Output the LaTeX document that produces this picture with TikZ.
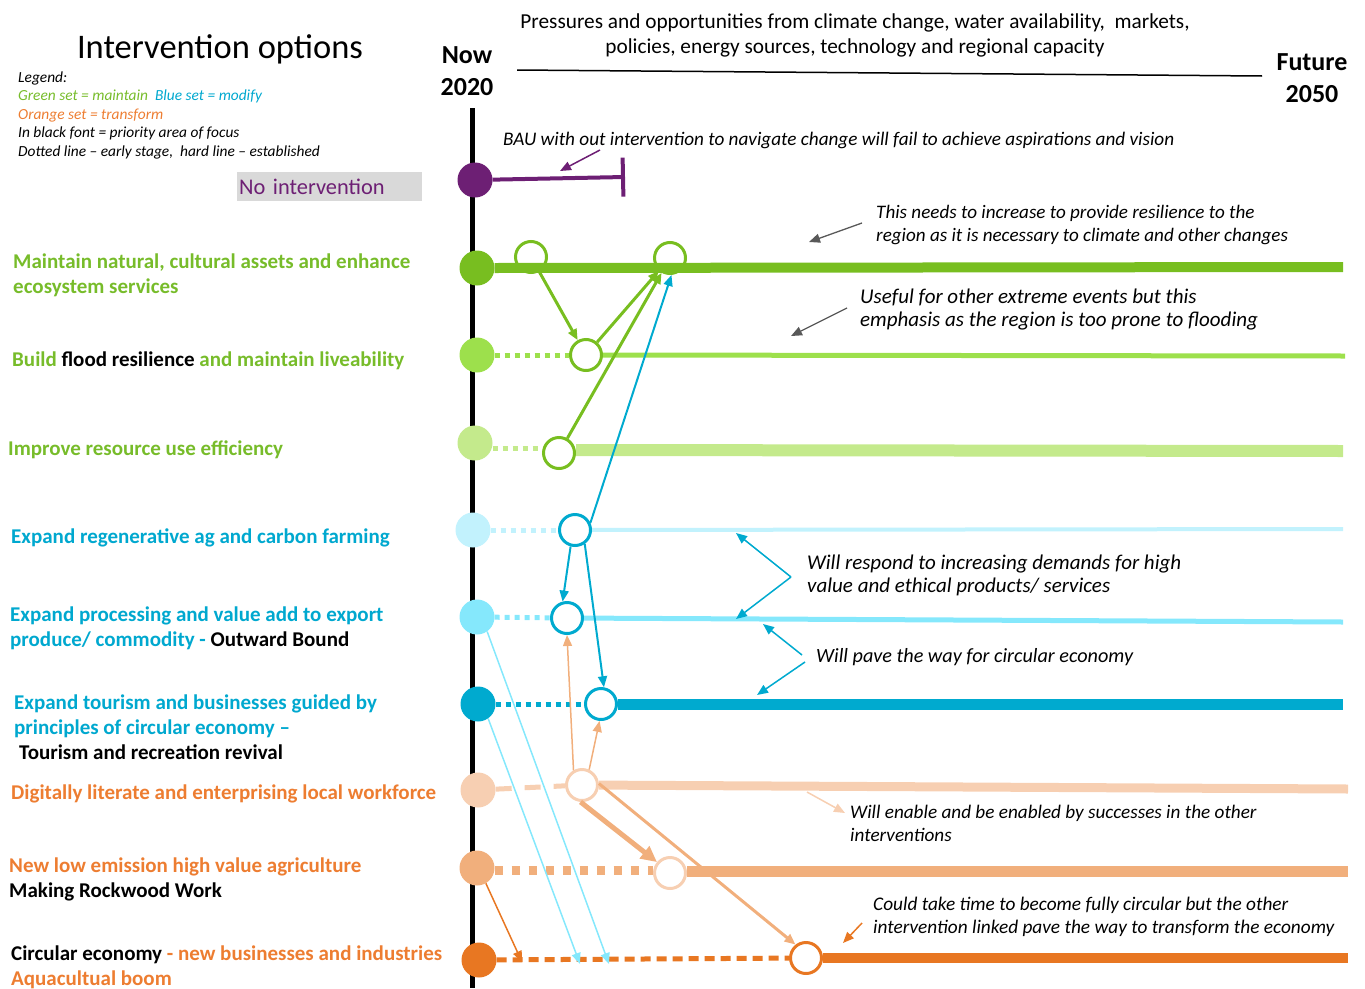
\documentclass[tikz,border=0pt]{standalone}
\usepackage{fontspec}
\setmainfont{Carlito}
\usepackage{xcolor}
\usetikzlibrary{arrows.meta,calc}

\definecolor{purp}{HTML}{6D1F74}
\definecolor{gDark}{HTML}{78BE20}
\definecolor{gMid}{HTML}{9DE04C}
\definecolor{gPale}{HTML}{C4EA8C}
\definecolor{bDark}{HTML}{00AACF}
\definecolor{bMid}{HTML}{85E8FC}
\definecolor{bPale}{HTML}{C2F2FD}
\definecolor{oDark}{HTML}{E87722}
\definecolor{oMid}{HTML}{F1AF7C}
\definecolor{oPale}{HTML}{F7CFB2}
\definecolor{txtGreen}{HTML}{77BC2A}
\definecolor{txtBlue}{HTML}{00A8CF}
\definecolor{txtOrange}{HTML}{ED7D31}
\definecolor{noteGray}{HTML}{595959}
\definecolor{boxGray}{HTML}{D9D9D9}

\begin{document}
\begin{tikzpicture}[x=1pt,y=-1pt,
  stage/.style={circle, fill=#1, minimum size=35pt, inner sep=0pt},
  ring/.style={circle, draw=#1, line width=3pt, fill=white, minimum size=31pt, inner sep=0pt},
  lbl/.style={anchor=west, align=left, inner sep=0pt, text=#1,
    font={\fontsize{21}{25}\selectfont\bfseries}},
  note/.style={anchor=west, align=left, inner sep=0pt,
    font={\fontsize{#1}{23.5}\selectfont\itshape}},
  tipS/.style={-{Triangle[length=11pt,width=9pt]}},
  tipL/.style={-{Triangle[length=16pt,width=15pt]}},
  early/.style={line width=5pt, dash pattern=on 5pt off 5pt}]

\useasboundingbox (0,0) rectangle (1365,988);

% heading
\node (title) at (220,49) {\fontsize{34.5}{40}\selectfont Intervention options};
\node[align=center, font={\fontsize{26}{32}\selectfont\bfseries}] (now) at (467,71) {Now\\2020};
\node[align=center, font={\fontsize{26}{32}\selectfont\bfseries}] (future) at (1312,78) {Future\\2050};
\node[align=center, font={\fontsize{21.3}{25}\selectfont}] (press) at (855,35)
  {Pressures and opportunities from climate change, water availability,\ \ markets,\\
   policies, energy sources, technology and regional capacity};
\coordinate (pL) at (517,70);
\coordinate (pR) at (1262,76);
\draw[line width=1.5pt] (pL) -- (pR);

% legend
\node[anchor=west, align=left, inner sep=0pt, font={\fontsize{15.4}{18.5}\selectfont\itshape}] (legend) at (18,115)
  {Legend:\\
   {\color{txtGreen}Green set = maintain}\ \ {\color{txtBlue}Blue set = modify}\\
   {\color{txtOrange}Orange set = transform}\\
   In black font = priority area of focus\\
   Dotted line -- early stage,\ \ hard line -- established};

% time line
\coordinate (tTop) at (472,108);
\coordinate (tBot) at (472,988);
\draw[line width=5pt] (tTop) -- (tBot);

% no intervention
\node[anchor=west, fill=boxGray, text width=181pt, minimum height=29pt, inner sep=2pt,
  text=purp, font={\fontsize{22.4}{24}\selectfont}] (none) at (237,186.5) {No intervention};
\node[stage=purp] (p0) at (475,180) {};
\coordinate (pEnd) at (625,177);
\draw[purp, line width=4pt, -{Bar[width=39pt]}] (p0) -- (pEnd);
\node[note=19.2, anchor=base west] (bau) at (503,145)
  {BAU with out intervention to navigate change will fail to achieve aspirations and vision};
\coordinate (bauA) at (600,150);
\coordinate (bauB) at (560,171);
\draw[purp, line width=1.5pt, tipS] (bauA) -- (bauB);

% labels
\node[lbl=txtGreen] (l1) at (13,275.5) {Maintain natural, cultural assets and enhance\\ecosystem services};
\node[lbl=txtGreen] (l2) at (12,361) {Build {\color{black}flood resilience} and maintain liveability};
\node[lbl=txtGreen] (l3) at (8,450) {Improve resource use efficiency};
\node[lbl=txtBlue] (l4) at (11,538) {Expand regenerative ag and carbon farming};
\node[lbl=txtBlue] (l5) at (10,628.5) {Expand processing and value add to export\\produce/ commodity - {\color{black}Outward Bound}};
\node[lbl=txtBlue] (l6) at (14,727) {Expand tourism and businesses guided by\\principles of circular economy --\\
  \hspace*{5pt}{\color{black}Tourism and recreation revival}};
\node[lbl=txtOrange] (l7) at (11,794) {Digitally literate and enterprising local workforce};
\node[lbl=txtOrange] (l8) at (9,879.5) {New low emission high value agriculture\\{\color{black}Making Rockwood Work}};
\node[lbl=txtOrange] (l9) at (11,967) {{\color{black}Circular economy} - new businesses and industries\\Aquacultual boom};

% green set
\node[stage=gDark] (g1) at (477,268) {};
\coordinate (g1End) at (1343,267);
\draw[gDark, line width=10pt] (g1.east) -- (g1End);
\node[ring=gDark, fill=none] (m1) at (531,257) {};
\node[ring=gDark, fill=none] (m2) at (670,258) {};

\node[stage=gMid] (g2) at (477,355) {};
\node[ring=gDark] (r2) at (586,355) {};
\coordinate (g2End) at (1345,356);
\draw[gMid, early] (g2) -- (r2);
\draw[gMid, line width=5pt] (r2) -- (g2End);

\node[stage=gPale] (g3) at (475,443) {};
\node[ring=gDark] (r3) at (559,453) {};
\coordinate (g3End) at (1343,451);
\draw[gPale, early] ($(g3.east)+(0,5)$) -- ($(r3.west)+(0,-5)$);
\draw[gPale, line width=12pt] ($(r3.east)+(0,-3)$) -- (g3End);

\draw[gDark, line width=3pt, tipS] (m1) -- (r2);
\draw[gDark, line width=3pt, tipS] (r2) -- (m2);
\draw[gDark, line width=3pt, tipS] (r3) -- (m2);

% blue set
\node[stage=bPale] (b1) at (473,530) {};
\node[ring=bDark] (e1) at (575,530) {};
\coordinate (b1End) at (1343,529);
\draw[bPale, early] (b1) -- (e1);
\draw[bPale, line width=4pt] (e1) -- (b1End);

\node[stage=bMid] (b2) at (477,617) {};
\node[ring=bDark] (e2) at (567,618) {};
\coordinate (b2End) at (1343,622);
\draw[bMid, early] (b2) -- (e2);
\draw[bMid, line width=5pt] (e2) -- (b2End);

\node[stage=bDark] (b3) at (478,704) {};
\node[ring=bDark] (e3) at (601,704) {};
\coordinate (b3End) at (1343,704);
\draw[bDark, early] (b3) -- (e3);
\draw[bDark, line width=11pt] (e3) -- (b3End);

\draw[bDark, line width=2pt, tipS] (e1.25) -- (m2.-85);
\draw[bDark, line width=2pt, tipS] (e1.-105) -- (e2.105);
\draw[bDark, line width=2pt, tipS] (e1.-55) -- (e3.80);

% orange set
\node[stage=oPale] (o1) at (478,790) {};
\node[ring=oPale] (w1) at (582,785) {};
\coordinate (o1End) at (1348,789);
\draw[oPale, line width=5pt, dash pattern=on 16pt off 13pt] (o1) -- (w1);
\draw[oPale, line width=9pt] (w1) -- (o1End);

\node[stage=oMid] (o2) at (477,868) {};
\node[ring=oPale] (w2) at (670,873) {};
\coordinate (o2End) at (1348,871);
\draw[oMid, line width=9pt, dash pattern=on 8pt off 9pt] ($(o2.east)+(0,2)$) -- ($(w2.west)+(0,-3)$);
\draw[oMid, line width=11pt] ($(w2.east)+(0,-2)$) -- (o2End);

\node[stage=oDark] (o3) at (479,960) {};
\node[ring=oDark] (w3) at (806,958) {};
\coordinate (o3End) at (1348,958);
\draw[oDark, line width=5pt, dash pattern=on 10pt off 6pt] (o3) -- (w3);
\draw[oDark, line width=10pt] (w3) -- (o3End);

\draw[oMid, line width=1.5pt, tipS] (w1.120) -- (e2.-90);
\draw[oMid, line width=1.5pt, tipS] (w1.65) -- (e3.-95);
\draw[oMid, line width=5pt, tipL] (w1.-95) -- (w2.140);
\draw[oMid, line width=3pt, tipS] (w1.5) -- (w3.128);
\coordinate (o3Hit) at (522,962);
\draw[oDark, line width=1.5pt, tipS] (o2.-60) -- (o3Hit);

\coordinate (b2Hit) at (609,964);
\coordinate (b3Hit) at (580,964);
\draw[bMid, line width=1.5pt, tipS] (b2.-55) -- (b2Hit);
\draw[bMid, line width=1.5pt, tipS] (b3.-55) -- (b3Hit);

% notes
\node[note=19.1] (n1) at (876,225) {This needs to increase to provide resilience to the\\region as it is necessary to climate and other changes};
\coordinate (n1a) at (862,223);
\coordinate (n1b) at (809,242);
\draw[noteGray, line width=1.3pt, tipS] (n1a) -- (n1b);

\node[note=21] (n2) at (860,309.5) {Useful for other extreme events but this\\emphasis as the region is too prone to flooding};
\coordinate (n2a) at (847,308);
\coordinate (n2b) at (791,336);
\draw[noteGray, line width=1.3pt, tipS] (n2a) -- (n2b);

\node[note=21] (n3) at (807,575.5) {Will respond to increasing demands for high\\value and ethical products/ services};
\coordinate (n3v) at (791,577);
\coordinate (n3a) at (736,533);
\coordinate (n3b) at (736,619);
\draw[bDark, line width=1.5pt, tipS] (n3v) -- (n3a);
\draw[bDark, line width=1.5pt, tipS] (n3v) -- (n3b);

\node[note=20.2] (n4) at (816,657.5) {Will pave the way for circular economy};
\coordinate (n4a) at (802,655);
\coordinate (n4b) at (763,624);
\coordinate (n4c) at (805,662);
\coordinate (n4d) at (757,695);
\draw[bDark, line width=1.5pt, tipS] (n4a) -- (n4b);
\draw[bDark, line width=1.5pt, tipS] (n4c) -- (n4d);

\node[note=19.2] (n5) at (850,823.5) {Will enable and be enabled by successes in the other\\interventions};
\coordinate (n5a) at (807,792);
\coordinate (n5b) at (845,813);
\draw[oPale, line width=1.5pt, tipS] (n5a) -- (n5b);

\node[note=19.3] (n6) at (873,917) {Could take time to become fully circular but the other\\intervention linked pave the way to transform the economy};
\coordinate (n6a) at (862,923);
\coordinate (n6b) at (843,943);
\draw[oDark, line width=1.5pt, tipS] (n6a) -- (n6b);

\end{tikzpicture}
\end{document}
